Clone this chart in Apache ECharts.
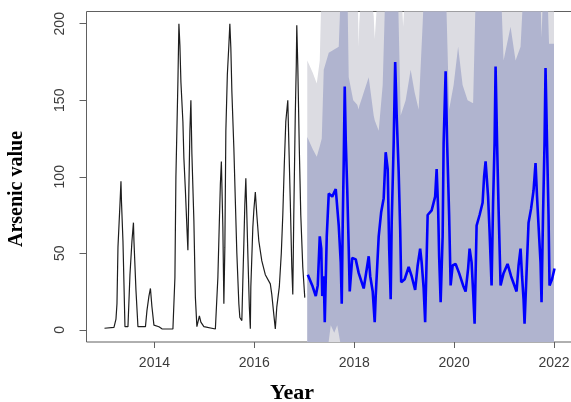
<!DOCTYPE html>
<html>
<head>
<meta charset="utf-8">
<script src="https://cdn.jsdelivr.net/npm/echarts@6/dist/echarts.min.js"></script>
<style>
html,body{margin:0;padding:0;background:#fff;}
#chart{width:571px;height:402px;}
</style>
</head>
<body>
<div id="chart"></div>
<script>
// Observed series (2013 - 2016)
const histYears = [2013.00,2013.19,2013.23,2013.25,2013.27,2013.31,2013.33,2013.34,2013.37,2013.41,2013.47,2013.51,2013.55,2013.58,2013.59,2013.63,2013.67,2013.82,2013.85,2013.89,2013.92,2013.95,2013.99,2014.09,2014.15,2014.37,2014.41,2014.43,2014.47,2014.49,2014.51,2014.53,2014.57,2014.59,2014.62,2014.65,2014.67,2014.69,2014.71,2014.73,2014.75,2014.79,2014.82,2014.85,2014.90,2014.93,2014.99,2015.22,2015.27,2015.30,2015.32,2015.34,2015.37,2015.39,2015.41,2015.43,2015.46,2015.49,2015.51,2015.53,2015.55,2015.59,2015.62,2015.65,2015.69,2015.71,2015.75,2015.77,2015.79,2015.81,2015.83,2015.85,2015.87,2015.90,2015.92,2015.93,2015.97,2015.99,2016.02,2016.05,2016.09,2016.15,2016.22,2016.32,2016.35,2016.39,2016.42,2016.45,2016.50,2016.54,2016.57,2016.60,2016.63,2016.67,2016.69,2016.72,2016.75,2016.77,2016.79,2016.82,2016.84,2016.85,2016.87,2016.90,2016.93,2016.97,2017.01];
const histValues = [1,1.5,7,17,54,82,97,84,58,2,2,36,58,70,58,26,2,2,12.5,22,27,15,3,2,0.6,0.5,34,100,162,200,186,162,136,112,91,67,52,93,130,150,115,71,21,2,9,5,2,0.5,34,71,95,110,67,17,54,130,167,186,200,184,156,119,84,50,17,8,6,32,56,82,99,75,50,15,0.6,28,67,78,90,75,58,45,36,30,23,10,0.6,15,28,50,75,108,136,150,123,84,41,23,75,141,173,199,173,119,75,41,21];

// Point forecast (2017 - 2021)
const foreYears = [2017.07,2017.16,2017.23,2017.27,2017.31,2017.34,2017.36,2017.39,2017.41,2017.45,2017.49,2017.56,2017.63,2017.67,2017.69,2017.73,2017.75,2017.77,2017.79,2017.81,2017.83,2017.86,2017.89,2017.91,2017.96,2018.03,2018.09,2018.19,2018.29,2018.32,2018.37,2018.41,2018.43,2018.49,2018.54,2018.59,2018.63,2018.67,2018.70,2018.73,2018.75,2018.79,2018.82,2018.85,2018.89,2018.92,2018.94,2019.01,2019.09,2019.15,2019.22,2019.27,2019.32,2019.35,2019.39,2019.42,2019.47,2019.55,2019.62,2019.65,2019.68,2019.70,2019.73,2019.77,2019.79,2019.83,2019.86,2019.90,2019.93,2019.97,2020.03,2020.10,2020.18,2020.23,2020.28,2020.31,2020.35,2020.38,2020.41,2020.45,2020.51,2020.57,2020.60,2020.63,2020.68,2020.71,2020.75,2020.78,2020.81,2020.83,2020.86,2020.89,2020.93,2020.99,2021.07,2021.14,2021.25,2021.29,2021.33,2021.36,2021.39,2021.41,2021.45,2021.49,2021.54,2021.59,2021.63,2021.66,2021.69,2021.73,2021.75,2021.78,2021.81,2021.83,2021.86,2021.89,2021.91,2021.96,2022.01];
const foreValues = [36,29,22,29,61,53,22,35,5,61,89,87,92,93,68,44,17,70,110,159,124,92,53,25,47,46,37,27,48,35,25,5,22,61,77,86,116,105,53,20,70,122,175,140,103,66,31,33,41,35,26,42,53,44,27,5,75,78,87,105,79,48,18,61,122,169,122,75,29,42,43,37,29,25,40,53,44,25,4,68,75,83,100,110,87,64,29,83,122,172,122,79,29,37,43,35,25,42,53,35,20,4,37,70,79,91,109,87,68,44,18,75,122,171,122,75,29,33,40];

// Prediction interval upper limits (80% and 95%)
const bandYears = [2017.06,2017.17,2017.25,2017.31,2017.35,2017.39,2017.49,2017.59,2017.69,2017.74,2017.86,2017.89,2017.98,2018.06,2018.09,2018.10,2018.16,2018.19,2018.29,2018.33,2018.39,2018.41,2018.49,2018.57,2018.63,2018.87,2018.93,2018.98,2019.03,2019.13,2019.21,2019.29,2019.37,2019.41,2019.83,2019.90,2019.99,2020.08,2020.17,2020.27,2020.38,2020.44,2020.93,2020.99,2021.13,2021.23,2021.33,2021.40,2021.72,2021.75,2021.79,2021.86,2021.90,2022.00];
const upper80 = [126,118,113,120,125,170,181,183,185,230,230,165,150,147,144,146,152,155,165,155,140,137,130,160,230,230,140,145,150,170,155,144,200,230,230,144,160,185,160,150,148,230,230,176,198,176,185,230,230,191,230,230,187,187];
const upper95 = [176,168,161,176,230,230,230,230,230,230,230,230,230,230,185,200,230,230,230,230,205,190,230,230,230,230,230,198,230,230,230,230,230,230,230,230,230,230,230,230,230,230,230,230,230,230,230,230,230,230,230,230,230,230];
// 80% lower limit (mostly below the plotted range)
const lowerYears = [2017.06,2017.48,2017.53,2017.60,2017.66,2017.73,2022.00];
const lower80 = [-20,-10,3,-2,3,-10,-20];

const xTicks = [2014,2016,2018,2020,2022];
const yTicks = [0,50,100,150,200];

const zip = (a,b) => a.map((v,i)=>[v,b[i]]);

const chart = echarts.init(document.getElementById('chart'), null, {renderer:'canvas'});
const lblFont = '"Liberation Sans", Arial, sans-serif';
chart.setOption({
  animation:false,
  backgroundColor:'#fff',
  grid:{left:86.5,top:11.5,width:485.5,height:330.5,show:true,borderColor:'#606060',borderWidth:1,backgroundColor:'transparent',containLabel:false,outerBoundsMode:'none'},
  xAxis:{type:'value',min:2012.64,max:2022.36,
    axisLine:{show:false,onZero:false},
    splitLine:{show:false},
    axisTick:{show:true,customValues:xTicks,length:6,lineStyle:{color:'#606060',width:1}},
    axisLabel:{customValues:xTicks,fontSize:14,color:'#3c3c3c',margin:14,fontFamily:lblFont,formatter:v=>String(v)}
  },
  yAxis:{type:'value',min:-8,max:208,
    axisLine:{show:false,onZero:false},
    splitLine:{show:false},
    axisTick:{show:true,customValues:yTicks,length:7,lineStyle:{color:'#606060',width:1}},
    axisLabel:{customValues:yTicks,fontSize:14,color:'#3c3c3c',margin:19,rotate:90,fontFamily:lblFont,formatter:v=>String(v)}
  },
  series:[
    {type:'line',data:zip(bandYears,upper95),symbol:'none',lineStyle:{width:0},
      areaStyle:{color:'#dcdce2',opacity:1,origin:'start'},clip:true,z:1},
    {type:'line',data:zip(bandYears,upper80),symbol:'none',lineStyle:{width:0},
      areaStyle:{color:'#b0b4cf',opacity:1,origin:'start'},clip:true,z:2},
    {type:'line',data:zip(lowerYears,lower80),symbol:'none',lineStyle:{width:0},
      areaStyle:{color:'#dcdce2',opacity:1,origin:'start'},clip:true,z:3},
    {type:'line',data:zip(histYears,histValues),symbol:'none',
      lineStyle:{color:'#1e1e1e',width:1.2},clip:true,z:4},
    {type:'line',data:zip(foreYears,foreValues),symbol:'none',
      lineStyle:{color:'#0000ff',width:2.6},clip:true,z:5}
  ],
  graphic:[
    {type:'text',x:17,y:189,rotation:Math.PI/2,
      style:{text:'Arsenic value',font:'bold 20px "Liberation Serif", "Times New Roman", serif',fill:'#000',align:'center',verticalAlign:'middle'}},
    {type:'text',x:292,y:393,
      style:{text:'Year',font:'bold 22px "Liberation Serif", "Times New Roman", serif',fill:'#000',align:'center',verticalAlign:'middle'}}
  ]
});
</script>
</body>
</html>
